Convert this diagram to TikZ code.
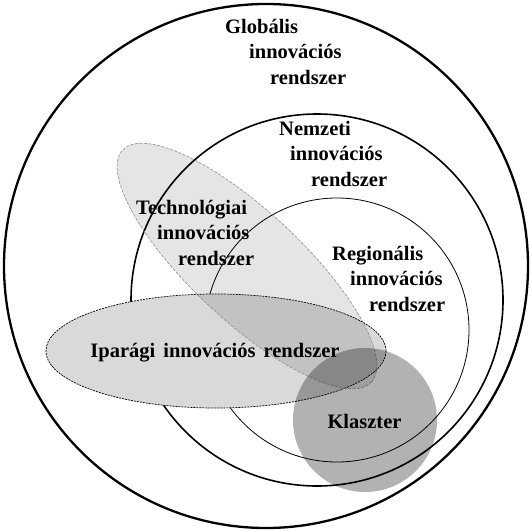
\documentclass[tikz,border=0pt]{standalone}
\usepackage{fontspec}
\setmainfont{Liberation Serif}
\tikzset{
  lbl/.style={font=\fontsize{20.5pt}{25.5pt}\selectfont\bfseries, inner sep=0pt, anchor=north west, align=left},
}
\begin{document}
\begin{tikzpicture}

  \useasboundingbox[fill=white] (0,0) rectangle (532pt,-532pt);

  % systems
  \draw[line width=2.3pt] (266pt,-266pt) circle (262pt);
  \draw[line width=1.6pt] (317pt,-300pt) circle (186pt);
  \draw[line width=0.8pt] (337pt,-330pt) circle (132pt);

  \draw[fill=black!15, line width=0.7pt, dash pattern=on 2pt off 1pt]
        (216pt,-351pt) ellipse (170pt and 57pt);
  \draw[fill=black, fill opacity=0.1, draw=black!45, line width=0.6pt, dash pattern=on 3pt off 1.5pt,
        rotate around={-43:(247pt,-266pt)}]
        (247pt,-266pt) ellipse (170pt and 55pt);
  \fill[black, opacity=0.3] (365pt,-420pt) circle (72pt);

  % labels
  \node[lbl] (glob) at (225pt,-19pt)
        {Globális\\\hspace*{24pt}innovációs\\\hspace*{45pt}rendszer};
  \node[lbl] (nemz) at (279pt,-121pt)
        {Nemzeti\\\hspace*{11pt}innovációs\\\hspace*{32pt}rendszer};
  \node[lbl] (tech) at (136pt,-200pt)
        {Technológiai\\\hspace*{21pt}innovációs\\\hspace*{42pt}rendszer};
  \node[lbl] (regi) at (332pt,-246pt)
        {Regionális\\\hspace*{18pt}innovációs\\\hspace*{37pt}rendszer};
  \node[lbl, anchor=center] (ipar) at (215pt,-353pt)
        {Iparági\hspace{8pt}innovációs\hspace{8pt}rendszer};
  \node[lbl, anchor=center] (klas) at (364.5pt,-421pt) {Klaszter};

\end{tikzpicture}
\end{document}
